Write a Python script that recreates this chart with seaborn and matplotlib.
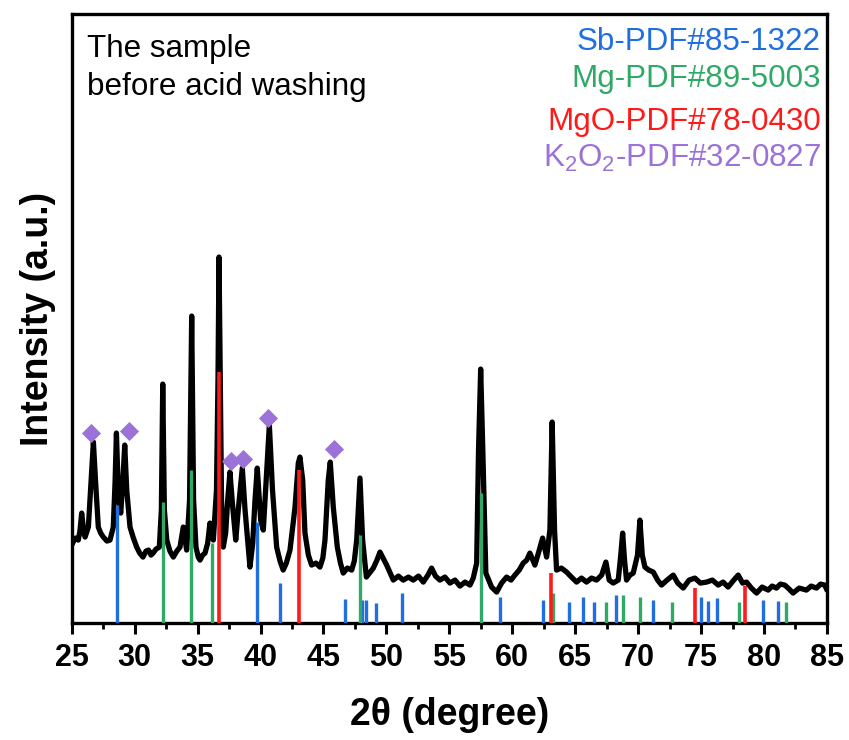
import matplotlib
matplotlib.use("Agg")
import matplotlib.pyplot as plt
import seaborn as sns
import pandas as pd

# ---------------- data ----------------
two_theta = [25.00, 25.15, 25.30, 25.52, 25.65, 25.79, 25.92, 26.06, 26.32, 26.53,
             26.72, 26.90, 27.11, 27.30, 27.51, 27.80, 28.04, 28.30, 28.44, 28.55,
             28.70, 28.89, 29.05, 29.21, 29.37, 29.63, 29.90, 30.16, 30.40, 30.66,
             30.90, 31.10, 31.30, 31.46, 31.70, 31.96, 32.12, 32.23, 32.36, 32.55,
             32.80, 33.07, 33.35, 33.60, 33.86, 34.13, 34.36, 34.53, 34.68, 34.87,
             35.05, 35.19, 35.40, 35.59, 35.80, 35.98, 36.15, 36.25, 36.50, 36.62,
             36.70, 36.80, 36.90, 37.04, 37.23, 37.39, 37.57, 37.79, 38.03, 38.23,
             38.55, 38.77, 39.16, 39.38, 39.56, 39.74, 40.01, 40.22, 40.45, 40.70,
             40.95, 41.28, 41.55, 41.80, 42.05, 42.34, 42.74, 43.00, 43.13, 43.35,
             43.53, 43.80, 44.06, 44.40, 44.72, 44.95, 45.12, 45.38, 45.54, 45.78,
             46.10, 46.35, 46.57, 46.90, 47.24, 47.45, 47.64, 47.90, 48.11, 48.41,
             48.96, 49.25, 49.49, 50.02, 50.55, 50.95, 51.34, 51.75, 52.13, 52.55,
             52.93, 53.30, 53.59, 53.90, 54.25, 54.65, 55.05, 55.45, 55.84, 56.25,
             56.64, 56.90, 57.17, 57.32, 57.49, 57.66, 57.90, 58.36, 58.76, 59.15,
             59.55, 59.90, 60.21, 60.55, 60.87, 61.15, 61.40, 61.80, 62.10, 62.41,
             62.73, 62.99, 63.17, 63.36, 63.52, 63.90, 64.32, 64.70, 65.11, 65.50,
             65.90, 66.30, 66.70, 67.10, 67.44, 67.70, 68.02, 68.42, 68.62, 68.77,
             68.92, 69.08, 69.35, 69.61, 69.95, 70.14, 70.33, 70.54, 70.85, 71.20,
             71.55, 71.86, 72.30, 72.79, 73.15, 73.58, 74.05, 74.51, 74.95, 75.44,
             75.90, 76.36, 76.75, 77.15, 77.60, 77.95, 78.30, 78.61, 79.00, 79.41,
             79.85, 80.33, 80.65, 80.99, 81.30, 81.65, 82.00, 82.31, 82.80, 83.37,
             83.75, 84.17, 84.50, 84.83, 85.00]
intensity = [78, 82, 85, 83, 92, 110, 95, 86, 96, 140,
             181, 140, 96, 90, 86, 82, 83, 96, 140, 190,
             130, 110, 140, 178, 133, 96, 85, 76, 70, 66,
             72, 73, 68, 70, 74, 76, 113, 239, 113, 83,
             72, 66, 72, 76, 96, 73, 123, 307, 123, 76,
             66, 63, 68, 70, 80, 100, 88, 83, 133, 243,
             366, 243, 123, 76, 90, 123, 151, 116, 83, 113,
             155, 113, 56, 80, 123, 155, 103, 93, 143, 198,
             133, 76, 62, 53, 60, 73, 116, 160, 166, 143,
             90, 68, 58, 60, 56, 65, 83, 143, 161, 116,
             76, 60, 50, 55, 53, 62, 83, 145, 83, 46,
             55, 63, 71, 58, 43, 47, 43, 46, 43, 47,
             41, 48, 55, 47, 43, 46, 40, 43, 37, 41,
             38, 45, 60, 173, 254, 173, 50, 36, 31, 40,
             46, 43, 48, 53, 60, 63, 70, 58, 71, 85,
             66, 93, 201, 93, 53, 55, 51, 46, 41, 45,
             41, 45, 43, 48, 61, 43, 40, 43, 68, 90,
             63, 43, 48, 50, 68, 103, 68, 56, 53, 51,
             43, 38, 43, 48, 40, 35, 43, 45, 40, 41,
             43, 38, 41, 36, 43, 48, 40, 41, 35, 30,
             36, 33, 37, 35, 39, 38, 34, 30, 35, 33,
             37, 35, 39, 38, 33]

sb_pos = [28.57, 39.74, 41.55, 46.70, 48.03, 48.38, 49.15, 51.24, 59.02, 62.46,
          64.50, 65.59, 66.51, 68.23, 71.20, 74.98, 75.57, 76.23, 79.93, 81.12]
sb_int = [118, 101, 40, 24, 23, 23, 20, 30, 26, 23,
          21, 26, 21, 28, 23, 26, 22, 25, 23, 22]

mg_pos = [32.28, 34.48, 36.12, 47.90, 57.53, 63.22, 67.41, 68.79, 70.14, 72.66, 78.00, 81.73]
mg_int = [121, 153, 80, 88, 130, 30, 21, 28, 26, 21, 21, 21]

mgo_pos = [36.72, 43.08, 63.10, 74.51, 78.48]
mgo_int = [251, 153, 50, 35, 37]

k2o2_pos = [26.52, 29.58, 37.63, 38.63, 40.62, 45.83]
k2o2_int = [190, 192, 162, 164, 205, 174]

legend_labels = ["Sb-PDF#85-1322", "Mg-PDF#89-5003", "MgO-PDF#78-0430",
                 r"K$_\mathregular{2}$O$_\mathregular{2}$-PDF#32-0827"]
sample_text = ["The sample", "before acid washing"]
x_ticks = [25, 30, 35, 40, 45, 50, 55, 60, 65, 70, 75, 80, 85]

# ---------------- style ----------------
sns.set_theme(style="white")
plt.rcParams["font.family"] = ["Liberation Sans", "DejaVu Sans"]
plt.rcParams["mathtext.fontset"] = "custom"
plt.rcParams["mathtext.rm"] = "Liberation Sans"
plt.rcParams["mathtext.it"] = "Liberation Sans:italic"
plt.rcParams["mathtext.bf"] = "Liberation Sans:bold"
plt.rcParams["text.color"] = "black"
plt.rcParams["axes.labelcolor"] = "black"
plt.rcParams["xtick.color"] = "black"
plt.rcParams["ytick.color"] = "black"

c_sb = "#1f6fe0"
c_mg = "#2eaa66"
c_mgo = "#ff1a1a"
c_k = "#9b72d8"

fig = plt.figure(figsize=(8.49, 7.40), dpi=100)
ax = fig.add_axes([0.0845, 0.158, 0.8895, 0.823])

df = pd.DataFrame({"2theta": two_theta, "I": intensity})
sns.lineplot(data=df, x="2theta", y="I", color="black", lw=3.8, ax=ax, sort=False)

ax.vlines(sb_pos, 0, sb_int, colors=c_sb, lw=2.4, zorder=3)
ax.vlines(mg_pos, 0, mg_int, colors=c_mg, lw=2.4, zorder=3)
ax.vlines(mgo_pos, 0, mgo_int, colors=c_mgo, lw=2.6, zorder=4)

sns.scatterplot(x=k2o2_pos, y=k2o2_int, marker="D", s=95, color=c_k,
                edgecolor=c_k, linewidth=0, ax=ax, zorder=5)

ax.set_xlim(25, 85)
ax.set_ylim(0, 609)
ax.set_xticks(x_ticks)
ax.set_xticks([t + 2.5 for t in x_ticks[:-1]], minor=True)
ax.set_yticks([])
ax.tick_params(axis="x", which="major", direction="out", length=8, width=2.2,
               labelsize=22, pad=6, bottom=True, colors="black")
ax.tick_params(axis="x", which="minor", direction="out", length=4.5, width=2.0, bottom=True)
for lab in ax.get_xticklabels():
    lab.set_fontweight("bold")
for sp in ax.spines.values():
    sp.set_linewidth(2.4)
    sp.set_color("black")

ax.set_xlabel("2θ (degree)", fontsize=27, fontweight="bold", va="center")
ax.set_ylabel("Intensity (a.u.)", fontsize=27, fontweight="bold", va="center")
ax.xaxis.set_label_coords(0.5, -0.151)
ax.yaxis.set_label_coords(-0.045, 0.5)

# legend-like texts
leg_y = [0.941, 0.880, 0.8095, 0.749]
for lab, col, y in zip(legend_labels, [c_sb, c_mg, c_mgo, c_k], leg_y):
    ax.text(0.992, y, lab, color=col, fontsize=22.6, ha="right", va="baseline",
            transform=ax.transAxes)

ax.text(0.020, 0.929, sample_text[0], fontsize=22.6, ha="left", va="baseline",
        transform=ax.transAxes, color="black")
ax.text(0.020, 0.867, sample_text[1], fontsize=22.6, ha="left", va="baseline",
        transform=ax.transAxes, color="black")

fig.savefig("out.png", dpi=100)
